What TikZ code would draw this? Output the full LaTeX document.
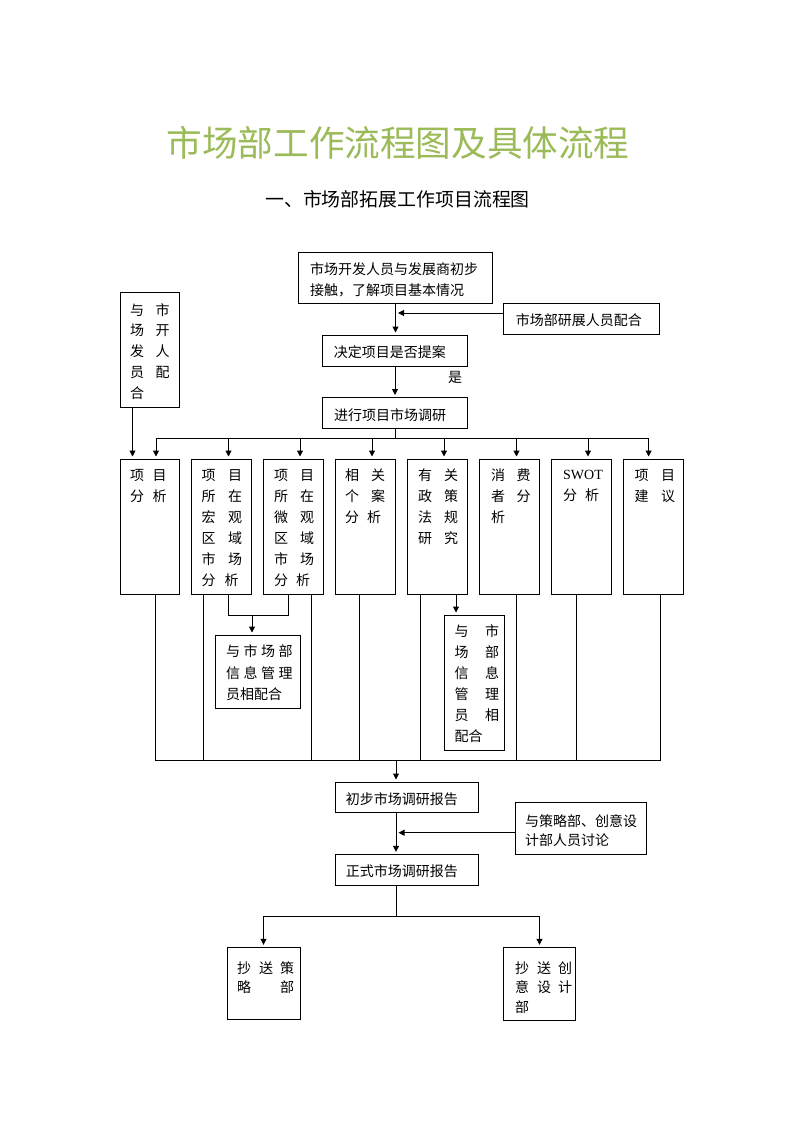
\documentclass[tikz,border=0pt]{standalone}
\usepackage{fontspec}
\setmainfont{Noto Sans CJK SC}
\newfontfamily\tnr{Liberation Serif}
\usetikzlibrary{arrows.meta}
\definecolor{titlegreen}{RGB}{155,187,89}
\newcommand\hs[1]{\hspace{#1pt}}
\newcommand\B[5]{\node[box, minimum width=#4pt, minimum height=#5pt] (#1) at (#2,#3) {};}
\newcommand\T[5][21]{\node[txt, font=\fontsize{14pt}{#1pt}\selectfont] (#2) at (#3,{#4-16}) {\rule{0pt}{16pt}#5};}
\begin{document}
\begin{tikzpicture}[x=1pt,y=-1pt,
  box/.style={draw, line width=1pt, anchor=north west, inner sep=0pt, outer sep=0pt},
  txt/.style={anchor=north west, inner sep=0pt, align=left},
  ln/.style={line width=1pt},
  arr/.style={line width=1pt, -{Triangle[length=6pt,width=6pt]}, shorten >=2.5pt}]
\fill[white] (0,0) rectangle (794,1123);
\useasboundingbox (0,0) rectangle (794,1123);

% titles
\node[font=\fontsize{35.6pt}{40pt}\selectfont, text=titlegreen] (title) at (398,143) {市场部工作流程图及具体流程};
\node[font=\fontsize{18.9pt}{22pt}\selectfont] (sub) at (397.5,199.5) {一、市场部拓展工作项目流程图};

% boxes
\B{top}{298.5}{252}{194}{51}
\B{s1}{503.5}{303}{156}{31.5}
\B{lb}{120}{292}{59}{115}
\B{dec}{322.5}{335}{145}{31}
\B{res}{322.5}{397.5}{145}{30.5}
\B{c1}{120}{459}{59.5}{135}
\B{c2}{191.5}{459}{60}{135}
\B{c3}{263.5}{459}{60}{135}
\B{c4}{335.5}{459}{60}{135}
\B{c5}{407.5}{459}{60}{135}
\B{c6}{479.5}{459}{60}{135}
\B{c7}{551.5}{459}{60}{135}
\B{c8}{623.5}{459}{60}{135}
\B{i1}{215.7}{635}{84.3}{73}
\B{i2}{444}{615}{60}{135}
\B{r1}{335}{782}{143.3}{30.3}
\B{s2}{515.7}{802.3}{131}{51.7}
\B{r2}{335}{854.3}{143.3}{31.4}
\B{d1}{227.3}{947.3}{72.7}{72}
\B{d2}{503.3}{947.3}{72.4}{72.7}

% texts
\T{ttop}{310}{274}{市场开发人员与发展商初步\\接触，了解项目基本情况}
\T{ts1}{515.7}{325}{市场部研展人员配合}
\T[20.75]{tlb}{130}{315}{与\hs{11.5}市\\场\hs{11.5}开\\发\hs{11.5}人\\员\hs{11.5}配\\合}
\T{tdec}{333.7}{357}{决定项目是否提案}
\node[font=\fontsize{14pt}{16pt}\selectfont] (yes) at (455,377) {是};
\T{tres}{334}{420}{进行项目市场调研}
\T{tc1}{130}{480}{项\hs{8.5}目\\分\hs{8.5}析}
\T{tc2}{201.5}{480}{项\hs{12.5}目\\所\hs{12.5}在\\宏\hs{12.5}观\\区\hs{12.5}域\\市\hs{12.5}场\\分\hs{9}析}
\T{tc3}{274}{480}{项\hs{12}目\\所\hs{12}在\\微\hs{12}观\\区\hs{12}域\\市\hs{12}场\\分\hs{8}析}
\T{tc4}{345}{480}{相\hs{12}关\\个\hs{12}案\\分\hs{8}析}
\T{tc5}{418}{480}{有\hs{12}关\\政\hs{12}策\\法\hs{12}规\\研\hs{12}究}
\T{tc6}{491}{480}{消\hs{11.5}费\\者\hs{11.5}分\\析}
\T{tc7}{563}{479}{{\tnr\fontsize{14pt}{21pt}\selectfont SWOT}\\分\hs{8}析}
\T{tc8}{634.5}{480}{项\hs{12.5}目\\建\hs{12.5}议}
\T[21.5]{ti1}{226}{656.7}{与\hs{3.5}市\hs{3.5}场\hs{3.5}部\\信\hs{3.5}息\hs{3.5}管\hs{3.5}理\\员相配合}
\T[21]{ti2}{454.4}{636.7}{与\hs{16.6}市\\场\hs{16.6}部\\信\hs{16.6}息\\管\hs{16.6}理\\员\hs{16.6}相\\配合}
\T{tr1}{345.7}{804}{初步市场调研报告}
\T[18.5]{ts2}{525}{826.7}{与策略部、创意设\\计部人员讨论}
\T{tr2}{345.7}{876.7}{正式市场调研报告}
\T[19]{td1}{237}{973}{抄\hs{8}送\hs{7}策\\略\hs{29}部}
\T[19.5]{td2}{515}{973}{抄\hs{8}送\hs{7}创\\意\hs{8}设\hs{7}计\\部}

% connectors, top part
\draw[arr] (top.south) -- (top.south |- dec.north);
\draw[arr] (s1.west |- 0,313) -- (top.south |- 0,313);
\draw[arr] (dec.south) -- (dec.south |- res.north);
\draw[ln] (res.south) -- (res.south |- 0,438);
\draw[ln] (156,438) -- (648.6,438);
\draw[arr] (lb.south -| 132.5,0) -- (c1.north -| 132.5,0);
\draw[arr] (156,438) -- (c1.north -| 156,0);
\draw[arr] (228.5,438) -- (c2.north -| 228.5,0);
\draw[arr] (300,438) -- (c3.north -| 300,0);
\draw[arr] (372,438) -- (c4.north -| 372,0);
\draw[arr] (444,438) -- (c5.north -| 444,0);
\draw[arr] (516.5,438) -- (c6.north -| 516.5,0);
\draw[arr] (588,438) -- (c7.north -| 588,0);
\draw[arr] (648.6,438) -- (c8.north -| 648.6,0);

% middle part
\draw[ln] (c2.south -| 228,0) -- (228,615) -- (288,615) -- (c3.south -| 288,0);
\draw[arr] (252,615) -- (i1.north -| 252,0);
\draw[arr] (c5.south -| 456,0) -- (i2.north -| 456,0);
\draw[ln] (c1.south -| 155.5,0) -- (155.5,760.5) -- (660,760.5) -- (c8.south -| 660,0);
\draw[ln] (c2.south -| 203.4,0) -- (203.4,760.5);
\draw[ln] (c3.south -| 311.5,0) -- (311.5,760.5);
\draw[ln] (c4.south -| 359.8,0) -- (359.8,760.5);
\draw[ln] (c5.south -| 420,0) -- (420,760.5);
\draw[ln] (c6.south -| 516.5,0) -- (516.5,760.5);
\draw[ln] (c7.south -| 576,0) -- (576,760.5);

% lower part
\draw[arr] (396,760.5) -- (r1.north -| 396,0);
\draw[arr] (r1.south -| 396,0) -- (r2.north -| 396,0);
\draw[arr] (s2.west |- 0,832.7) -- (396,832.7);
\draw[ln] (r2.south -| 396,0) -- (396,916);
\draw[ln] (263.5,916) -- (539.5,916);
\draw[arr] (263.5,916) -- (d1.north -| 263.5,0);
\draw[arr] (539.5,916) -- (d2.north -| 539.5,0);
\end{tikzpicture}
\end{document}
